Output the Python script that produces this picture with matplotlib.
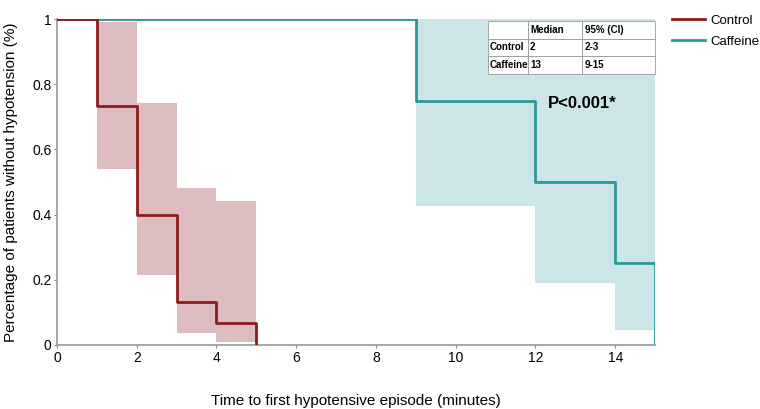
import matplotlib.pyplot as plt

plt.rcParams['font.family'] = ['Liberation Sans', 'DejaVu Sans']

# Kaplan-Meier estimates
control_t = [0, 1, 2, 3, 4, 5, 5]
control_s = [1, 0.733, 0.4, 0.133, 0.067, 0, 0]
caffeine_t = [0, 9, 12, 14, 15]
caffeine_s = [1, 0.75, 0.5, 0.25, 0]

# confidence bands (step intervals)
control_ci_t = [1, 2, 3, 4, 5]
control_lo = [0.54, 0.215, 0.036, 0.01]
control_hi = [0.99, 0.741, 0.483, 0.442]
caffeine_ci_t = [9, 12, 14, 15]
caffeine_lo = [0.426, 0.19, 0.046]
caffeine_hi = [1, 1, 1]

table_cols = ['', 'Median', '95% (CI)']
table_rows = [['Control', '2', '2-3'], ['Caffeine', '13', '9-15']]

red = '#8e1c1c'
red_fill = '#ddbcbf'
teal = '#2a9896'
teal_fill = '#cce6e7'

fig = plt.figure(figsize=(7.6, 4.09), dpi=100)
ax = fig.add_axes([0.075, 0.1565, 0.787, 0.797])

ax.fill_between(control_ci_t, control_lo + control_lo[-1:], control_hi + control_hi[-1:],
                step='post', color=red_fill, lw=0)
ax.fill_between(caffeine_ci_t, caffeine_lo + caffeine_lo[-1:], caffeine_hi + caffeine_hi[-1:],
                step='post', color=teal_fill, lw=0)

ax.step(caffeine_t, caffeine_s, where='post', color=teal, lw=2, label='Caffeine', zorder=3)
ax.step(control_t, control_s, where='post', color=red, lw=2, label='Control', zorder=4)

ax.set_xlim(0, 15)
ax.set_ylim(0, 1)
ax.set_xticks(range(0, 15, 2))
ax.set_yticks([0, 0.2, 0.4, 0.6, 0.8, 1])
ax.set_yticklabels(['0', '0.2', '0.4', '0.6', '0.8', '1'])
ax.tick_params(length=2, labelsize=10, color='#888888', pad=2)
for s in ['top', 'right']:
    ax.spines[s].set_visible(False)
for s in ['left', 'bottom']:
    ax.spines[s].set_color('#999999')
    ax.spines[s].set_linewidth(1.2)

ax.set_xlabel('Time to first hypotensive episode (minutes)', fontsize=11, labelpad=21)
ax.set_ylabel('Percentage of patients without hypotension (%)', fontsize=11, labelpad=10)

ax.text(13.17, 0.742, 'P<0.001*', fontsize=12, fontweight='bold', ha='center', va='center')

tb = ax.table(cellText=table_rows, colLabels=table_cols, cellLoc='left', colLoc='left',
              colWidths=[39, 53, 71], bbox=[0.72, 0.832, 0.28, 0.162])
tb.set_zorder(6)
tb.auto_set_font_size(False)
for (r, c), cell in tb.get_celld().items():
    cell.set_edgecolor('#999999')
    cell.set_linewidth(0.6)
    cell.set_facecolor('white')
    cell.PAD = 0.04
    cell.get_text().set_fontsize(7)
    cell.get_text().set_fontweight('bold')
    cell.get_text().set_family(['Liberation Sans Narrow', 'Liberation Sans', 'DejaVu Sans'])

h, l = ax.get_legend_handles_labels()
fig.legend(h[::-1], l[::-1], loc='upper left', bbox_to_anchor=(0.868, 0.993),
           frameon=False, fontsize=9.5, handlelength=2.5, handletextpad=0.45,
           labelspacing=0.65)

fig.savefig('out.png', dpi=100)
